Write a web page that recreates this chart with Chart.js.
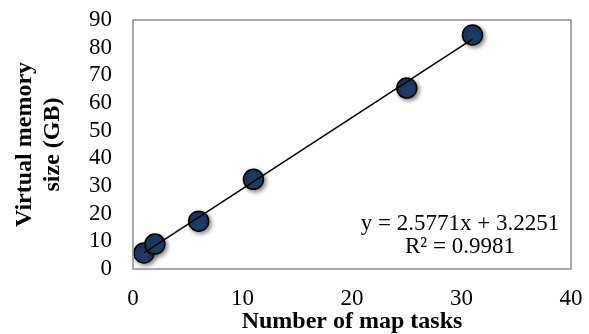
<!DOCTYPE html>
<html>
<head>
<meta charset="utf-8">
<script src="https://cdn.jsdelivr.net/npm/chart.js@4/dist/chart.umd.min.js"></script>
<style>
  html, body { margin: 0; padding: 0; background: #fff; }
  #wrap { width: 589px; height: 334px; }
</style>
</head>
<body>
<div id="wrap"><canvas id="vmChart" width="589" height="334"></canvas></div>
<script>
// map tasks vs. virtual memory (GB)
const mapTasks = [1, 2, 6, 11, 25, 31];
const memoryGB = [5.8, 9.0, 17.3, 32.4, 65.4, 84.6];

// linear trendline, as reported
const slope = 2.5771;
const intercept = 3.2251;
const rSquared = 0.9981;

const xTicks = [0, 10, 20, 30, 40];
const yTicks = [0, 10, 20, 30, 40, 50, 60, 70, 80, 90];

const trendX = [mapTasks[0], mapTasks[mapTasks.length - 1]];
const trendPoints = trendX.map(x => ({ x: x, y: slope * x + intercept }));

const serif = "'Liberation Serif', 'Times New Roman', serif";

// gray frame round the plot area plus the equation text
const framePlugin = {
    id: 'frame',
    afterDraw(chart) {
        const { ctx, chartArea: a } = chart;
        ctx.save();
        ctx.strokeStyle = '#8c8c8c';
        ctx.lineWidth = 1.5;
        ctx.strokeRect(a.left, a.top, a.right - a.left, a.bottom - a.top);

        ctx.fillStyle = '#000';
        ctx.font = '23px ' + serif;
        ctx.textAlign = 'center';
        ctx.textBaseline = 'middle';
        ctx.fillText('y = ' + slope + 'x + ' + intercept, 460, 224);
        ctx.fillText('R\u00b2 = ' + rSquared, 460, 247);
        ctx.restore();
    }
};

// soft drop shadow under the markers
const shadowPlugin = {
    id: 'markerShadow',
    beforeDatasetDraw(chart, args) {
        if (args.index !== 0) return;
        const ctx = chart.ctx;
        ctx.save();
        ctx.shadowColor = 'rgba(0,0,0,0.45)';
        ctx.shadowBlur = 4;
        ctx.shadowOffsetX = 2;
        ctx.shadowOffsetY = 2;
    },
    afterDatasetDraw(chart, args) {
        if (args.index !== 0) return;
        chart.ctx.restore();
    }
};

const ctx = document.getElementById('vmChart').getContext('2d');

new Chart(ctx, {
    type: 'scatter',
    data: {
        datasets: [{
            label: 'Virtual memory',
            data: mapTasks.map((x, i) => ({ x: x, y: memoryGB[i] })),
            backgroundColor: '#1f3b63',
            borderColor: '#000',
            borderWidth: 1.5,
            pointRadius: 10,
            pointHoverRadius: 10,
            order: 1
        }, {
            type: 'line',
            label: 'Linear trend',
            data: trendPoints,
            borderColor: '#000',
            borderWidth: 1.5,
            pointRadius: 0,
            fill: false,
            order: 0
        }]
    },
    options: {
        responsive: false,
        animation: false,
        layout: { padding: { top: 20, right: 18, left: 0, bottom: 0 } },
        plugins: {
            legend: { display: false },
            tooltip: { enabled: false }
        },
        scales: {
            x: {
                type: 'linear',
                min: 0,
                max: 40,
                afterBuildTicks: s => { s.ticks = xTicks.map(v => ({ value: v })); },
                afterFit: s => {
                    s.height = 65;
                    s.paddingLeft = 0;
                    s.paddingRight = 0;
                },
                grid: { display: false, drawTicks: false },
                border: { display: false },
                ticks: {
                    color: '#000',
                    padding: 16,
                    autoSkip: false,
                    maxRotation: 0,
                    font: { family: serif, size: 23 }
                },
                title: {
                    display: true,
                    text: 'Number of map tasks',
                    color: '#000',
                    padding: { top: 0, bottom: 0 },
                    font: { family: serif, size: 24, weight: 'bold', lineHeight: 1 }
                }
            },
            y: {
                type: 'linear',
                min: 0,
                max: 90,
                afterBuildTicks: s => { s.ticks = yTicks.map(v => ({ value: v })); },
                afterFit: s => {
                    s.width = 133;
                    s.paddingTop = 0;
                    s.paddingBottom = 0;
                },
                grid: { display: false, drawTicks: false },
                border: { display: false },
                ticks: {
                    color: '#000',
                    padding: 21,
                    autoSkip: false,
                    font: { family: serif, size: 23 }
                },
                title: {
                    display: true,
                    text: ['Virtual memory', 'size (GB)'],
                    color: '#000',
                    padding: { top: 10, bottom: 0 },
                    font: { family: serif, size: 24, weight: 'bold', lineHeight: 1.2 }
                }
            }
        }
    },
    plugins: [framePlugin, shadowPlugin]
});
</script>
</body>
</html>
